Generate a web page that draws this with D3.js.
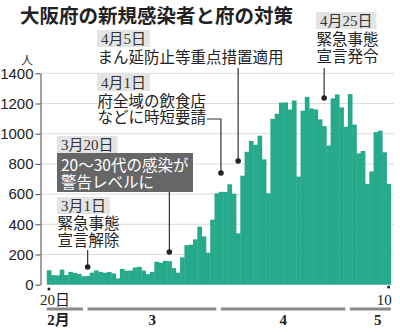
<!DOCTYPE html>
<html>
<head>
<meta charset="utf-8">
<script src="https://cdn.jsdelivr.net/npm/d3@7"></script>
<style>
  html, body { margin: 0; padding: 0; background: #fff; }
  svg { display: block; }
</style>
</head>
<body>
<svg id="chart" width="400" height="332"></svg>
<script>
// 大阪府の日別新規感染者数（2021年2月20日〜5月10日）
const startDate = new Date(2021, 1, 20);
const febCases = [96, 63, 62, 100, 64, 85, 78, 72, 56];
const marCases = [57, 80, 95, 84, 79, 84, 75, 42, 104, 93, 94, 114, 118, 93, 70, 85,
                  152, 146, 158, 156, 110, 80, 181, 262, 265, 300, 384, 320, 212, 431, 605];
const aprCases = [615, 614, 665, 602, 340, 722, 880, 952, 927, 987, 830, 605, 1099, 1132, 1206,
                  1207, 1160, 1220, 716, 1152, 1244, 1167, 1160, 1095, 1050, 922, 1234, 1260, 1174, 1046];
const mayCases = [1262, 1060, 870, 885, 668, 750, 1010, 1020, 877, 668];
const yTicks = [0, 200, 400, 600, 800, 1000, 1200, 1400];
const monthLabels = ["2月", "3", "4", "5"];
const monthStarts = [new Date(2021, 1, 20), new Date(2021, 2, 1), new Date(2021, 3, 1), new Date(2021, 4, 1)];

// 府の対策
const events = [
  { date: new Date(2021, 2, 1),  label: "3月1日",  lines: ["緊急事態", "宣言解除"] },
  { date: new Date(2021, 2, 20), label: "3月20日", lines: ["20～30代の感染が", "警告レベルに"], dark: true },
  { date: new Date(2021, 3, 1),  label: "4月1日",  lines: ["府全域の飲食店", "などに時短要請"] },
  { date: new Date(2021, 3, 5),  label: "4月5日",  lines: ["まん延防止等重点措置適用"] },
  { date: new Date(2021, 3, 25), label: "4月25日", lines: ["緊急事態", "宣言発令"] }
];

const cases = [...febCases, ...marCases, ...aprCases, ...mayCases];
const data = cases.map((v, i) => ({ date: d3.timeDay.offset(startDate, i), value: v }));
const endDate = data[data.length - 1].date;

const svg = d3.select("#chart");
const GOTHIC = "'Noto Sans CJK JP', 'Noto Sans', sans-serif";
const SERIF = "'Liberation Serif', 'DejaVu Serif', 'Noto Sans CJK JP', serif";
const NUM = "'Liberation Sans Narrow', 'Arial Narrow', 'Liberation Sans', sans-serif";

const x = d3.scaleBand()
  .domain(data.map(d => +d.date))
  .range([46.8, 390.8])
  .padding(0);
const xc = d => x(+d) + x.bandwidth() / 2;

const y = d3.scaleLinear().domain([0, 1400]).range([284.7, 73.3]);

// title
svg.append("text")
  .attr("x", 20).attr("y", 22.5)
  .attr("font-family", GOTHIC).attr("font-weight", 700)
  .attr("font-size", 19.5).attr("fill", "#222")
  .text("大阪府の新規感染者と府の対策");

// unit
svg.append("text")
  .attr("x", 21).attr("y", 65)
  .attr("font-family", GOTHIC).attr("font-size", 12).attr("fill", "#333")
  .text("人");

// grid
svg.append("g")
  .selectAll("line")
  .data(yTicks.filter(t => t > 0))
  .join("line")
  .attr("x1", 41).attr("x2", 394)
  .attr("y1", d => y(d)).attr("y2", d => y(d))
  .attr("stroke", "#dcdcdc").attr("stroke-width", 1);

// bars
svg.append("g")
  .selectAll("rect")
  .data(data)
  .join("rect")
  .attr("x", d => x(+d.date))
  .attr("width", x.bandwidth() + 0.4)
  .attr("y", d => y(d.value))
  .attr("height", d => y(0) - y(d.value))
  .attr("fill", "#27a98b");

// y axis
const yAxis = svg.append("g")
  .attr("transform", "translate(40.5,0)")
  .call(d3.axisLeft(y).tickValues(yTicks).tickFormat(d3.format("d"))
    .tickSize(5).tickSizeOuter(0).tickPadding(2));
yAxis.select(".domain").attr("stroke", "#444").attr("stroke-width", 1);
yAxis.selectAll(".tick line").attr("stroke", "#444");
yAxis.selectAll(".tick text")
  .attr("font-family", NUM).attr("font-size", 15).attr("fill", "#222");

// x axis: end labels
const xLabels = [
  { date: startDate, text: "20日", anchor: "start", dx: -9, dotY: 289 },
  { date: endDate, text: "10", anchor: "end", dx: 3, dotY: 287 }
];
const xl = svg.append("g");
xl.selectAll("circle").data(xLabels).join("circle")
  .attr("cx", d => xc(d.date)).attr("cy", d => d.dotY).attr("r", 1.5).attr("fill", "#222");
xl.selectAll("text").data(xLabels).join("text")
  .attr("x", d => xc(d.date) + d.dx).attr("y", 304.5)
  .attr("text-anchor", d => d.anchor)
  .attr("font-family", SERIF).attr("font-size", 15).attr("fill", "#222")
  .text(d => d.text);

// month bands
const monthEnds = [...monthStarts.slice(1), d3.timeDay.offset(endDate, 1)];
const months = monthStarts.map((s, i) => ({
  start: s, end: monthEnds[i], label: monthLabels[i], idx: i
}));
const xEdge = d => d <= endDate ? x(+d) : x(+endDate) + x.bandwidth();
const mg = svg.append("g");
mg.selectAll("line").data(months).join("line")
  .attr("x1", d => xEdge(d.start) + (d.idx === 0 ? 0 : 2))
  .attr("x2", d => xEdge(d.end) - (d.idx === months.length - 1 ? 0 : 2.5))
  .attr("y1", 309).attr("y2", 309)
  .attr("stroke", "#8a8a8a").attr("stroke-width", 3);
const monthLabelX = d => {
  if (d.idx === 0) return xEdge(d.start) + 0.5;
  if (d.idx === months.length - 1) return xEdge(d.start) + 30;
  return (xEdge(d.start) + xEdge(d.end)) / 2;
};
mg.selectAll("text").data(months).join("text")
  .attr("x", monthLabelX)
  .attr("y", 325)
  .attr("text-anchor", d => d.idx === 0 ? "start" : "middle")
  .attr("font-family", SERIF).attr("font-weight", 700)
  .attr("font-size", 15).attr("fill", "#222")
  .text(d => d.label);

// annotation layout
const layout = [
  { boxX: 57, boxY: 197, textY: [229, 246], path: [[0, 250], [0, 267]] },
  { boxX: 57, boxY: 136, textY: [171, 188], path: [[0, 192], [0, 252]] },
  { boxX: 97, boxY: 74, textY: [106.5, 123], path: [[-14, 119], [0, 119], [0, 173]] },
  { boxX: 97, boxY: 30, textY: [62.5], path: [[0, 68], [0, 161]] },
  { boxX: 316, boxY: 12, textY: [44.5, 61.5], path: [[0, 68], [0, 98]] }
];

const ag = svg.append("g");
events.forEach((ev, i) => {
  const L = layout[i];
  const g = ag.append("g");
  const cx = xc(ev.date);

  // date tag
  const tag = g.append("rect").attr("fill", "#e4e4e4");
  const tt = g.append("text")
    .attr("x", L.boxX + 4).attr("y", L.boxY + 14)
    .attr("font-family", SERIF).attr("font-size", 15).attr("fill", "#333")
    .text(ev.label);
  const tw = tt.node().getComputedTextLength();
  tag.attr("x", L.boxX).attr("y", L.boxY).attr("width", tw + 8).attr("height", 17);

  // body
  if (ev.dark) {
    g.append("rect")
      .attr("x", L.boxX).attr("y", L.boxY + 17)
      .attr("width", 136).attr("height", 39)
      .attr("fill", "#666");
  }
  ev.lines.forEach((line, j) => {
    g.append("text")
      .attr("x", L.boxX + (ev.dark ? 4 : 0.5)).attr("y", L.textY[j])
      .attr("font-family", GOTHIC).attr("font-size", 15.5)
      .attr("fill", ev.dark ? "#fff" : "#222")
      .text(line);
  });

  // leader
  const pts = L.path.map(p => [cx + p[0], p[1]]);
  g.append("path")
    .attr("d", d3.line()(pts))
    .attr("fill", "none").attr("stroke", "#333").attr("stroke-width", 1.2);
  const last = pts[pts.length - 1];
  g.append("circle").attr("cx", last[0]).attr("cy", last[1]).attr("r", 2.8).attr("fill", "#222");
});
</script>
</body>
</html>
